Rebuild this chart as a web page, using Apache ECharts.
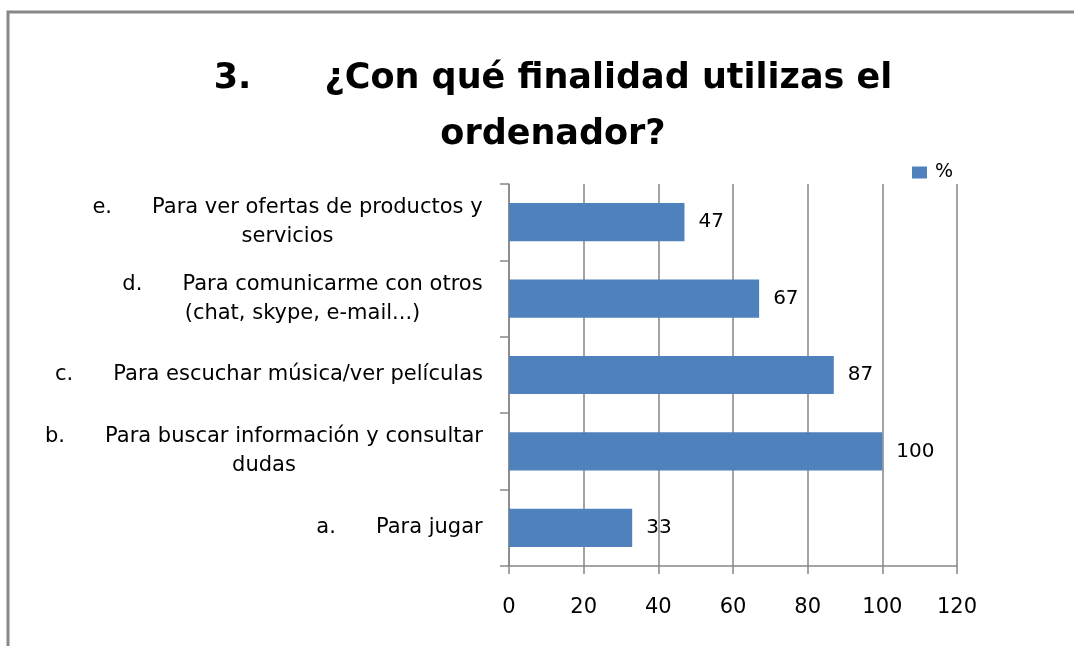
<!DOCTYPE html>
<html>
<head>
<meta charset="utf-8">
<script src="https://cdn.jsdelivr.net/npm/echarts@6/dist/echarts.min.js"></script>
<style>
html,body{margin:0;padding:0;background:#fff;}
#chart{width:1074px;height:646px;}
</style>
</head>
<body>
<div id="chart"></div>
<script>
var categories = [
  'a.      Para jugar',
  'b.      Para buscar información y consultar\ndudas',
  'c.      Para escuchar música/ver películas',
  'd.      Para comunicarme con otros\n(chat, skype, e-mail...)',
  'e.      Para ver ofertas de productos y\nservicios'
];
var values = [33, 100, 87, 67, 47];
var seriesName = '%';
var titleText = '3.      ¿Con qué finalidad utilizas el\nordenador?';
var xTicks = [0, 20, 40, 60, 80, 100, 120];

var labelFont = 'DejaVu Sans';
var labelSize = 21;

// measure label blocks so each line is centered within its block
var cv = document.createElement('canvas').getContext('2d');
cv.font = labelSize + 'px "' + labelFont + '"';
var rich = {};
categories.forEach(function (c, i) {
  var w = 0;
  c.split('\n').forEach(function (l) { w = Math.max(w, cv.measureText(l).width); });
  rich['c' + i] = {width: Math.ceil(w) + 2, align: 'center', fontFamily: labelFont, fontSize: labelSize, color: '#000', lineHeight: 29};
});

var chart = echarts.init(document.getElementById('chart'), null, {renderer: 'canvas'});
var grayLine = '#868686';
chart.setOption({
  backgroundColor: '#fff',
  animation: false,
  title: {
    text: titleText,
    left: 548,
    top: 46,
    textAlign: 'center',
    textStyle: {fontFamily: 'DejaVu Sans', fontWeight: 'bold', fontSize: 35, color: '#000', lineHeight: 56}
  },
  legend: {
    data: [seriesName],
    icon: 'rect',
    left: 907,
    top: 158,
    itemWidth: 15,
    itemHeight: 12,
    itemGap: 5,
    textStyle: {fontFamily: labelFont, fontSize: 19, color: '#000', padding: [0, 0, 0, 3]}
  },
  graphic: [{
    type: 'polyline',
    shape: {points: [[8, 646], [8, 12], [1074, 12]]},
    style: {stroke: '#888', lineWidth: 3, fill: null},
    silent: true
  }],
  grid: {left: 509, right: 117, top: 184, bottom: 80, containLabel: false},
  xAxis: {
    type: 'value',
    min: xTicks[0],
    max: xTicks[xTicks.length - 1],
    interval: xTicks[1] - xTicks[0],
    axisLine: {show: true, lineStyle: {color: grayLine, width: 1.5}},
    axisTick: {show: true, length: 8, lineStyle: {color: grayLine, width: 1.5}},
    splitLine: {show: true, lineStyle: {color: grayLine, width: 1.5}},
    axisLabel: {margin: 31, fontFamily: labelFont, fontSize: 21, color: '#000'}
  },
  yAxis: {
    type: 'category',
    data: categories,
    axisLine: {show: true, lineStyle: {color: grayLine, width: 1.5}},
    axisTick: {show: true, length: 9, lineStyle: {color: grayLine, width: 1.5}},
    axisLabel: {
      margin: 25,
      formatter: function (v) {
        var i = categories.indexOf(v);
        return v.split('\n').map(function (l) { return '{c' + i + '|' + l + '}'; }).join('\n');
      },
      rich: rich
    }
  },
  series: [{
    name: seriesName,
    type: 'bar',
    data: values,
    barCategoryGap: '50%',
    itemStyle: {color: '#4F81BD'},
    label: {
      show: true,
      position: 'right',
      distance: 14,
      fontFamily: labelFont,
      fontSize: 20,
      color: '#000'
    }
  }]
});
</script>
</body>
</html>
